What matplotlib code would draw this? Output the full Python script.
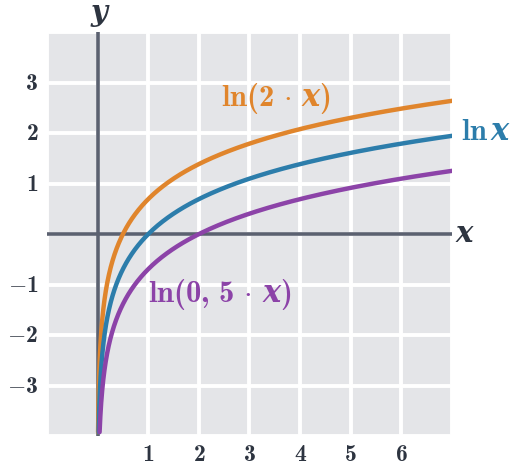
import numpy as np
import matplotlib
matplotlib.use("Agg")
import matplotlib.pyplot as plt

plt.rcParams['mathtext.fontset'] = 'custom'
plt.rcParams['mathtext.rm'] = 'cmr10'
plt.rcParams['mathtext.it'] = 'cmmi10'
plt.rcParams['mathtext.bf'] = 'cmb10'
plt.rcParams['mathtext.bfit'] = 'DejaVu Serif:style=italic:weight=bold'
plt.rcParams['mathtext.fallback'] = 'cm'

# functions plotted: ln(k*x)
factors = [2.0, 1.0, 0.5]
colors = ['#e0852c', '#2c7dab', '#8c43a8']
labels = [r'$\mathbf{ln(2}\,\cdot\,\boldsymbol{x}\mathbf{)}$',
          r'$\mathbf{ln}\,\boldsymbol{x}$',
          r'$\mathbf{ln(0,}\,\mathbf{5}\,\cdot\,\boldsymbol{x}\mathbf{)}$']
label_pos = [(2.43, 2.68), (7.17, 2.03), (1.0, -1.2)]

xticks = [1, 2, 3, 4, 5, 6]
yticks = [-3, -2, -1, 1, 2, 3]

fig = plt.figure(figsize=(5.16, 4.65), dpi=100)
ax = fig.add_axes([0.091, 0.062, 0.785, 0.869])
ax.set_facecolor('#e4e5e8')
ax.set_xlim(-1, 7)
ax.set_ylim(-4, 4)

for v in range(-1, 8):
    ax.axvline(v, color='white', lw=2.8, zorder=1)
for v in range(-4, 5):
    ax.axhline(v, color='white', lw=2.8, zorder=1)

ax.plot([-1, 7], [0, 0], color='#5b6170', lw=2.6, zorder=2, solid_capstyle='butt')
ax.plot([0, 0], [-4, 4], color='#5b6170', lw=2.6, zorder=2, solid_capstyle='butt')

for k, c in zip(factors, colors):
    xmin = np.exp(-3.92) / k
    x = np.geomspace(xmin, 7, 600)
    ax.plot(x, np.log(k * x), color=c, lw=3.2, zorder=3, solid_capstyle='round')

for lab, (px, py), c in zip(labels, label_pos, colors):
    ax.text(px, py, lab, color=c, fontsize=22, ha='left', va='center', clip_on=False)

for t in xticks:
    ax.text(t, -4.36, r'$\mathbf{%d}$' % t, color='#2d3440', fontsize=17,
            ha='center', va='center', clip_on=False)
for t in yticks:
    lab = r'$\mathbf{%d}$' % t if t > 0 else r'$\mathbf{-%d}$' % -t
    ax.text(-1.17, t, lab, color='#2d3440', fontsize=17,
            ha='right', va='center', clip_on=False)

ax.text(0.05, 4.33, r'$\boldsymbol{y}$', color='#2d3440', fontsize=21,
        ha='center', va='center', clip_on=False)
ax.text(7.25, 0.0, r'$\boldsymbol{x}$', color='#2d3440', fontsize=21,
        ha='center', va='center', clip_on=False)

ax.set_xticks([])
ax.set_yticks([])
for s in ax.spines.values():
    s.set_visible(False)

fig.savefig('out.png', dpi=100)
